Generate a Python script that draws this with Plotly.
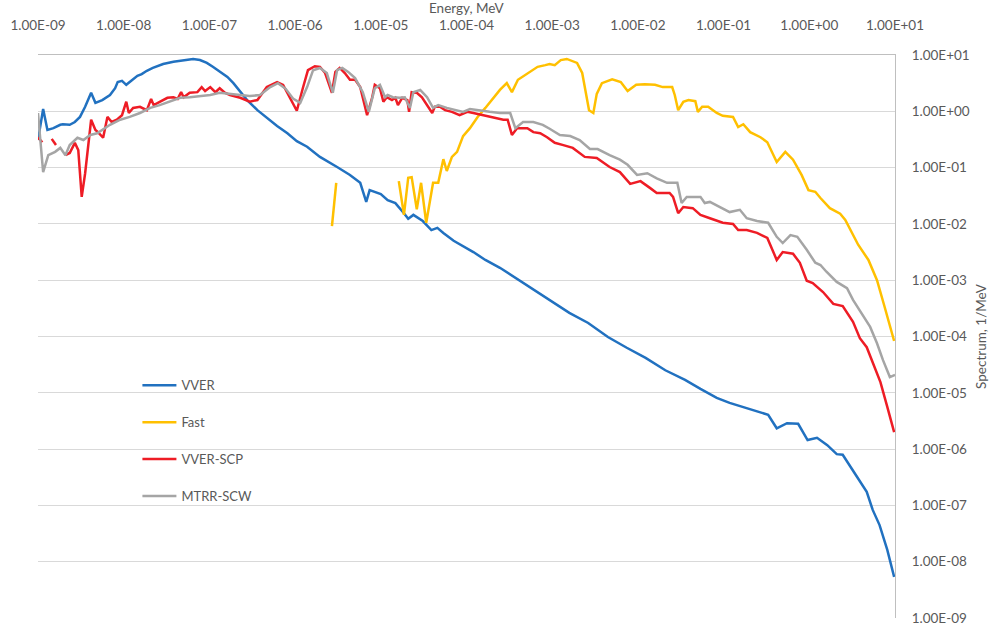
import numpy as np
import plotly.graph_objects as go

# ---- data (log10 of energy in MeV, log10 of spectrum in 1/MeV) ----
vver_logE = [-9.00, -8.94, -8.89, -8.82, -8.74, -8.71, -8.63, -8.57, -8.51, -8.45, -8.38, -8.33, -8.25,
             -8.16, -8.10, -8.07, -8.02, -7.97, -7.93, -7.84, -7.79, -7.73, -7.66, -7.54, -7.42, -7.31,
             -7.19, -7.11, -7.03, -6.96, -6.88, -6.79, -6.72, -6.64, -6.56, -6.44, -6.33, -6.21, -6.09,
             -5.98, -5.86, -5.71, -5.51, -5.36, -5.24, -5.17, -5.13, -5.00, -4.92, -4.83, -4.73, -4.68,
             -4.62, -4.51, -4.41, -4.34, -4.27, -4.15, -3.92, -3.78, -3.61, -3.43, -3.25, -3.03, -2.80,
             -2.58, -2.35, -2.13, -1.91, -1.68, -1.45, -1.27, -1.08, -0.93, -0.69, -0.48, -0.38, -0.26,
             -0.13, -0.02, 0.09, 0.21, 0.32, 0.39, 0.56, 0.67, 0.74, 0.82, 0.91, 0.99]
vver_logS = [-0.51, 0.04, -0.33, -0.30, -0.24, -0.23, -0.24, -0.19, -0.10, 0.08, 0.33, 0.15, 0.20,
             0.29, 0.41, 0.52, 0.54, 0.47, 0.52, 0.63, 0.66, 0.72, 0.77, 0.84, 0.88, 0.91,
             0.93, 0.91, 0.86, 0.79, 0.70, 0.61, 0.50, 0.34, 0.20, 0.02, -0.12, -0.26, -0.39,
             -0.53, -0.63, -0.81, -0.99, -1.13, -1.27, -1.61, -1.40, -1.47, -1.58, -1.63, -1.81, -1.91,
             -1.84, -1.95, -2.11, -2.07, -2.16, -2.30, -2.50, -2.64, -2.78, -2.96, -3.14, -3.35, -3.58,
             -3.76, -4.01, -4.20, -4.38, -4.60, -4.77, -4.93, -5.09, -5.18, -5.29, -5.39, -5.63, -5.54,
             -5.55, -5.84, -5.80, -5.93, -6.09, -6.10, -6.50, -6.76, -7.08, -7.35, -7.79, -8.27]

fast_logE = [-5.57, -5.52, None,
             -4.79, -4.73, -4.68, -4.64, -4.58, -4.53, -4.47, -4.39, -4.33, -4.27, -4.23, -4.17, -4.11,
             -4.04, -3.96, -3.87, -3.78, -3.70, -3.61, -3.53, -3.47, -3.40, -3.32, -3.24, -3.17, -3.08,
             -3.03, -2.97, -2.90, -2.83, -2.76, -2.71, -2.65, -2.61, -2.57, -2.52, -2.48, -2.42, -2.30,
             -2.20, -2.12, -2.02, -1.92, -1.80, -1.71, -1.60, -1.57, -1.53, -1.47, -1.41, -1.33, -1.30,
             -1.25, -1.18, -1.08, -1.01, -0.89, -0.83, -0.77, -0.69, -0.57, -0.49, -0.38, -0.28, -0.19,
             -0.09, -0.01, 0.07, 0.13, 0.24, 0.36, 0.42, 0.50, 0.57, 0.69, 0.79, 0.88, 0.99]
fast_logS = [-2.04, -1.27, None,
             -1.24, -1.84, -1.18, -1.17, -1.74, -1.27, -1.98, -1.27, -1.27, -0.85, -1.06, -0.81, -0.72,
             -0.44, -0.30, -0.10, 0.06, 0.22, 0.38, 0.50, 0.34, 0.56, 0.64, 0.73, 0.79, 0.82,
             0.84, 0.82, 0.91, 0.93, 0.89, 0.86, 0.68, 0.33, 0.02, -0.03, 0.31, 0.50, 0.57,
             0.52, 0.36, 0.47, 0.48, 0.47, 0.43, 0.43, 0.29, 0.02, 0.17, 0.20, 0.18, -0.01,
             0.08, 0.08, -0.03, -0.08, -0.10, -0.28, -0.23, -0.37, -0.46, -0.55, -0.90, -0.72, -0.86,
             -1.13, -1.40, -1.43, -1.54, -1.72, -1.82, -1.93, -2.16, -2.37, -2.64, -3.00, -3.48, -4.08]

scp_logE = [-9.00, -8.95, None, -8.84, -8.79, None,
            -8.68, -8.63, -8.57, -8.53, -8.49, -8.45, -8.38, -8.33, -8.30, -8.24, -8.19, -8.14, -8.08,
            -8.02, -7.97, -7.94, -7.89, -7.81, -7.73, -7.68, -7.65, -7.58, -7.49, -7.42, -7.37, -7.33,
            -7.30, -7.23, -7.14, -7.09, -7.05, -6.99, -6.93, -6.88, -6.82, -6.76, -6.64, -6.53, -6.44,
            -6.33, -6.21, -6.14, -6.06, -5.98, -5.91, -5.85, -5.77, -5.71, -5.65, -5.59, -5.57, -5.53,
            -5.48, -5.42, -5.36, -5.30, -5.24, -5.16, -5.10, -5.07, -5.01, -4.97, -4.93, -4.87, -4.83,
            -4.80, -4.75, -4.69, -4.67, -4.64, -4.58, -4.52, -4.46, -4.40, -4.37, -4.31, -4.25, -4.17,
            -4.08, -3.99, -3.92, -3.81, -3.73, -3.64, -3.57, -3.52, -3.47, -3.41, -3.29, -3.22, -3.14,
            -3.06, -2.97, -2.87, -2.76, -2.62, -2.48, -2.33, -2.21, -2.09, -1.97, -1.86, -1.78, -1.63,
            -1.59, -1.53, -1.47, -1.36, -1.27, -1.16, -1.01, -0.89, -0.83, -0.73, -0.61, -0.49, -0.38,
            -0.31, -0.19, -0.11, -0.03, 0.04, 0.09, 0.16, 0.28, 0.39, 0.51, 0.59, 0.67, 0.74, 0.83,
            0.91, 0.99]
scp_logS = [-0.46, -0.55, None, -0.49, -0.60, None,
            -0.78, -0.74, -0.56, -0.69, -1.52, -1.10, -0.15, -0.33, -0.37, -0.47, -0.10, -0.19, -0.15,
            -0.07, 0.17, -0.03, 0.06, 0.08, 0.02, 0.22, 0.11, 0.17, 0.24, 0.25, 0.22, 0.34,
            0.25, 0.33, 0.34, 0.43, 0.36, 0.43, 0.34, 0.41, 0.33, 0.29, 0.24, 0.17, 0.20,
            0.43, 0.52, 0.47, 0.25, 0.01, 0.41, 0.73, 0.80, 0.79, 0.68, 0.43, 0.33, 0.70,
            0.77, 0.68, 0.56, 0.56, 0.43, -0.07, 0.25, 0.47, 0.41, 0.17, 0.25, 0.20, 0.24,
            0.11, 0.24, 0.20, -0.01, 0.34, 0.33, 0.25, 0.11, -0.03, 0.08, 0.08, 0.02, -0.01,
            -0.07, -0.01, -0.03, -0.07, -0.10, -0.12, -0.15, -0.15, -0.42, -0.30, -0.30, -0.37, -0.39,
            -0.46, -0.56, -0.60, -0.65, -0.81, -0.83, -0.99, -1.08, -1.29, -1.24, -1.36, -1.45, -1.45,
            -1.52, -1.81, -1.70, -1.72, -1.84, -1.90, -1.98, -2.00, -2.11, -2.11, -2.16, -2.25, -2.64,
            -2.50, -2.53, -2.69, -3.01, -3.05, -3.12, -3.21, -3.42, -3.46, -3.74, -4.03, -4.19, -4.45,
            -4.81, -5.25, -5.70]

mtrr_logE = [-9.00, -8.94, -8.88, -8.80, -8.74, -8.68, -8.63, -8.54, -8.47, -8.39, -8.31, -8.25, -8.16,
             -8.04, -7.93, -7.81, -7.69, -7.58, -7.46, -7.34, -7.23, -7.11, -6.99, -6.88, -6.76, -6.64,
             -6.53, -6.41, -6.29, -6.20, -6.11, -6.02, -5.94, -5.86, -5.79, -5.71, -5.63, -5.56, -5.51,
             -5.45, -5.38, -5.30, -5.21, -5.14, -5.07, -5.01, -4.95, -4.92, -4.86, -4.78, -4.72, -4.66,
             -4.62, -4.54, -4.46, -4.39, -4.33, -4.23, -4.11, -4.04, -3.96, -3.84, -3.73, -3.61, -3.49,
             -3.43, -3.34, -3.22, -3.11, -3.03, -2.91, -2.79, -2.68, -2.56, -2.47, -2.33, -2.21, -2.12,
             -2.01, -1.89, -1.78, -1.66, -1.54, -1.49, -1.43, -1.27, -1.22, -1.16, -1.04, -0.93, -0.81,
             -0.73, -0.61, -0.48, -0.38, -0.31, -0.22, -0.14, -0.03, 0.07, 0.13, 0.20, 0.32, 0.44,
             0.51, 0.63, 0.71, 0.79, 0.86, 0.94, 1.00]
mtrr_logS = [-0.03, -1.08, -0.78, -0.72, -0.65, -0.78, -0.60, -0.47, -0.51, -0.42, -0.39, -0.33, -0.24,
             -0.15, -0.10, -0.03, 0.06, 0.11, 0.17, 0.24, 0.25, 0.27, 0.29, 0.33, 0.31, 0.29,
             0.27, 0.29, 0.43, 0.50, 0.40, 0.22, 0.15, 0.43, 0.73, 0.77, 0.68, 0.33, 0.73,
             0.77, 0.70, 0.59, 0.34, -0.01, 0.41, 0.47, 0.25, 0.29, 0.25, 0.24, 0.25, 0.06,
             0.34, 0.38, 0.25, 0.06, 0.11, 0.06, 0.02, -0.01, 0.04, 0.01, -0.01, -0.03, -0.03,
             -0.30, -0.19, -0.19, -0.24, -0.31, -0.42, -0.44, -0.51, -0.67, -0.67, -0.78, -0.86, -0.95,
             -1.13, -1.10, -1.19, -1.27, -1.27, -1.63, -1.52, -1.52, -1.63, -1.61, -1.70, -1.79, -1.75,
             -1.90, -1.95, -1.98, -2.23, -2.34, -2.20, -2.23, -2.46, -2.69, -2.73, -2.85, -3.03, -3.14,
             -3.35, -3.65, -3.83, -4.12, -4.42, -4.72, -4.68]

x_tick_exponents = [-9, -8, -7, -6, -5, -4, -3, -2, -1, 0, 1]
x_tick_labels = ["1.00E-09", "1.00E-08", "1.00E-07", "1.00E-06", "1.00E-05", "1.00E-04",
                 "1.00E-03", "1.00E-02", "1.00E-01", "1.00E+00", "1.00E+01"]
y_tick_exponents = [-9, -8, -7, -6, -5, -4, -3, -2, -1, 0, 1]
y_tick_labels = ["1.00E-09", "1.00E-08", "1.00E-07", "1.00E-06", "1.00E-05", "1.00E-04",
                 "1.00E-03", "1.00E-02", "1.00E-01", "1.00E+00", "1.00E+01"]
x_title = "Energy, MeV"
y_title = "Spectrum, 1/MeV"

series_names = ["VVER", "Fast", "VVER-SCP", "MTRR-SCW"]
series_colors = ["#2171C0", "#FFC000", "#EE1C25", "#A5A5A5"]


def from_log(vals):
    return [None if v is None else 10.0 ** v for v in vals]


data = [(vver_logE, vver_logS), (fast_logE, fast_logS), (scp_logE, scp_logS), (mtrr_logE, mtrr_logS)]

FONT = "Lato"
TXT = "#595959"
TICK = 13.5

fig = go.Figure()
for i, ((lx, ly), name, color) in enumerate(zip(data, series_names, series_colors)):
    fig.add_trace(go.Scatter(
        x=from_log(lx), y=from_log(ly), mode="lines", name=name,
        line=dict(color=color, width=2.5), connectgaps=False,
        legendgroup=f"g{i}",
    ))

fig.update_layout(
    width=991, height=630,
    margin=dict(l=38, r=96, t=55, b=12, autoexpand=False),
    paper_bgcolor="white", plot_bgcolor="white",
    font=dict(family=FONT, size=12, color=TXT),
    showlegend=True,
    legend=dict(
        x=0.116, y=0.44, xanchor="left", yanchor="top",
        bgcolor="rgba(0,0,0,0)", borderwidth=0,
        font=dict(family=FONT, size=13, color=TXT),
        tracegroupgap=17, itemwidth=34,
        traceorder="grouped",
    ),
    xaxis=dict(
        type="log", range=[-9, 1], side="top",
        tickvals=[10.0 ** e for e in x_tick_exponents], ticktext=x_tick_labels,
        showgrid=False, zeroline=False,
        showline=True, linecolor="#BFBFBF", linewidth=1,
        ticks="", ticklabelstandoff=19,
        tickfont=dict(family=FONT, size=TICK, color=TXT),
        automargin=False,
    ),
    yaxis=dict(
        type="log", range=[-9, 1], side="right",
        tickvals=[10.0 ** e for e in y_tick_exponents], ticktext=y_tick_labels,
        showgrid=True, gridcolor="#D9D9D9", gridwidth=1, zeroline=False,
        showline=True, linecolor="#BFBFBF", linewidth=1,
        ticks="", ticklabelstandoff=13,
        tickfont=dict(family=FONT, size=TICK, color=TXT),
        title=dict(text=y_title, font=dict(family=FONT, size=TICK, color=TXT), standoff=7),
        automargin=False,
    ),
    annotations=[dict(
        text=x_title, xref="paper", yref="paper", x=0.5, y=1.0835,
        xanchor="center", yanchor="middle", showarrow=False,
        font=dict(family=FONT, size=TICK, color=TXT),
    )],
)

# remove the browser's default 8 px page margin so the figure fills the window exactly
fig.write_html("out.html", config={"displayModeBar": False},
               post_script="document.body.style.margin='0';")
